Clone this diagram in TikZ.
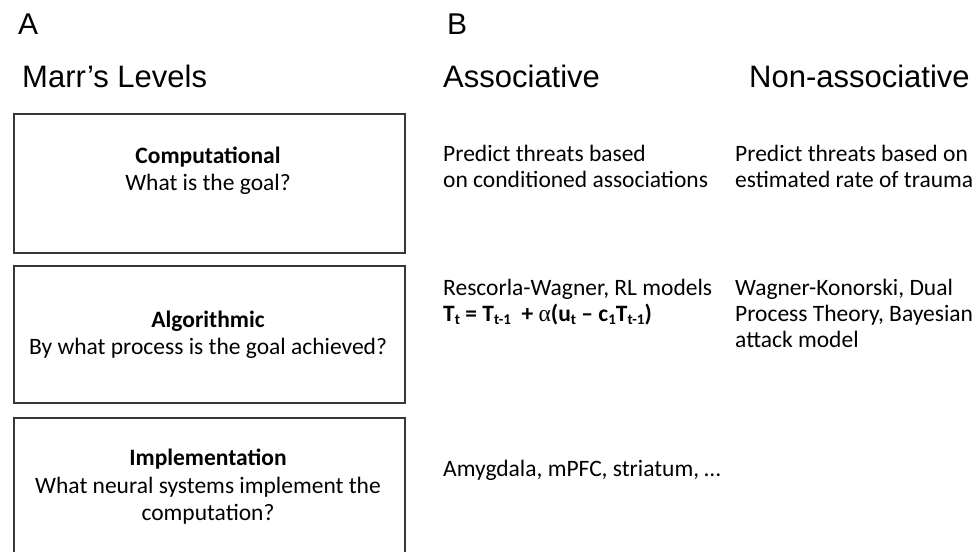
\documentclass[tikz,border=0pt]{standalone}
\usepackage{fontspec}
\setmainfont{Carlito}
\newfontfamily\arialfont{Liberation Sans}
\newfontfamily\greekfont{Liberation Serif}
\newcommand{\lowsub}[1]{\raisebox{-0.28ex}{\fontsize{15}{15}\selectfont #1}}
\begin{document}
\begin{tikzpicture}[x=1pt,y=-1pt,
  panel/.style={font=\arialfont\fontsize{30}{34}\selectfont, anchor=base west, inner sep=0pt},
  head/.style={font=\arialfont\fontsize{31}{34}\selectfont, anchor=base west, inner sep=0pt},
  body/.style={font=\fontsize{23.5}{27}\selectfont, anchor=base west, inner sep=0pt},
  cbody/.style={font=\fontsize{23.5}{27}\selectfont, anchor=base, inner sep=0pt},
  levelbox/.style={draw=black!78, line width=1.5pt, inner sep=0pt, anchor=north west, minimum width=391pt}]
\useasboundingbox (0,0) rectangle (973,551);
\fill[white] (0,0) rectangle (973,551);
\node[panel] (A) at (18,35) {A};
\node[panel] (B) at (447,35) {B};
\node[head] (marr) at (22,87) {Marr’s Levels};
\node[head] (assoc) at (443,87) {Associative};
\node[head] (nonassoc) at (749,87) {Non-associative};
% boxes
\node[levelbox, minimum height=139pt] (comp) at (13,113) {};
\node[levelbox, minimum height=137pt] (algo) at (13,265) {};
\node[levelbox, minimum height=150pt] (impl) at (13,417) {};
% box texts
\node[cbody] (compT) at (208,163) {\bfseries Computational};
\node[cbody] (compQ) at (208,190) {What is the goal?};
\node[cbody] (algoT) at (208,327) {\bfseries Algorithmic};
\node[cbody] (algoQ) at (208,354) {By what process is the goal achieved?};
\node[cbody] (implT) at (208,465) {\bfseries Implementation};
\node[cbody] (implQ) at (208,493) {What neural systems implement the};
\node[cbody] (implQb) at (208,520) {computation?};
% associative column
\node[body] (a1) at (443,161) {Predict threats based};
\node[body] (a2) at (443,187) {on conditioned associations};
\node[body] (a3) at (443,295) {Rescorla-Wagner, RL models};
\node[body] (a4) at (443,321) {\bfseries T\lowsub{t} = T\lowsub{t-1}\ \ + {\mdseries\greekfont α}(u\lowsub{t} – c\lowsub{1}T\lowsub{t-1})};
\node[body] (a5) at (443,476) {Amygdala, mPFC, striatum, …};
% non-associative column
\node[body] (n1) at (735,161) {Predict threats based on};
\node[body] (n2) at (735,187) {estimated rate of trauma};
\node[body] (n3) at (735,295) {Wagner-Konorski, Dual};
\node[body] (n4) at (735,321) {Process Theory, Bayesian};
\node[body] (n5) at (735,347) {attack model};
\end{tikzpicture}
\end{document}
